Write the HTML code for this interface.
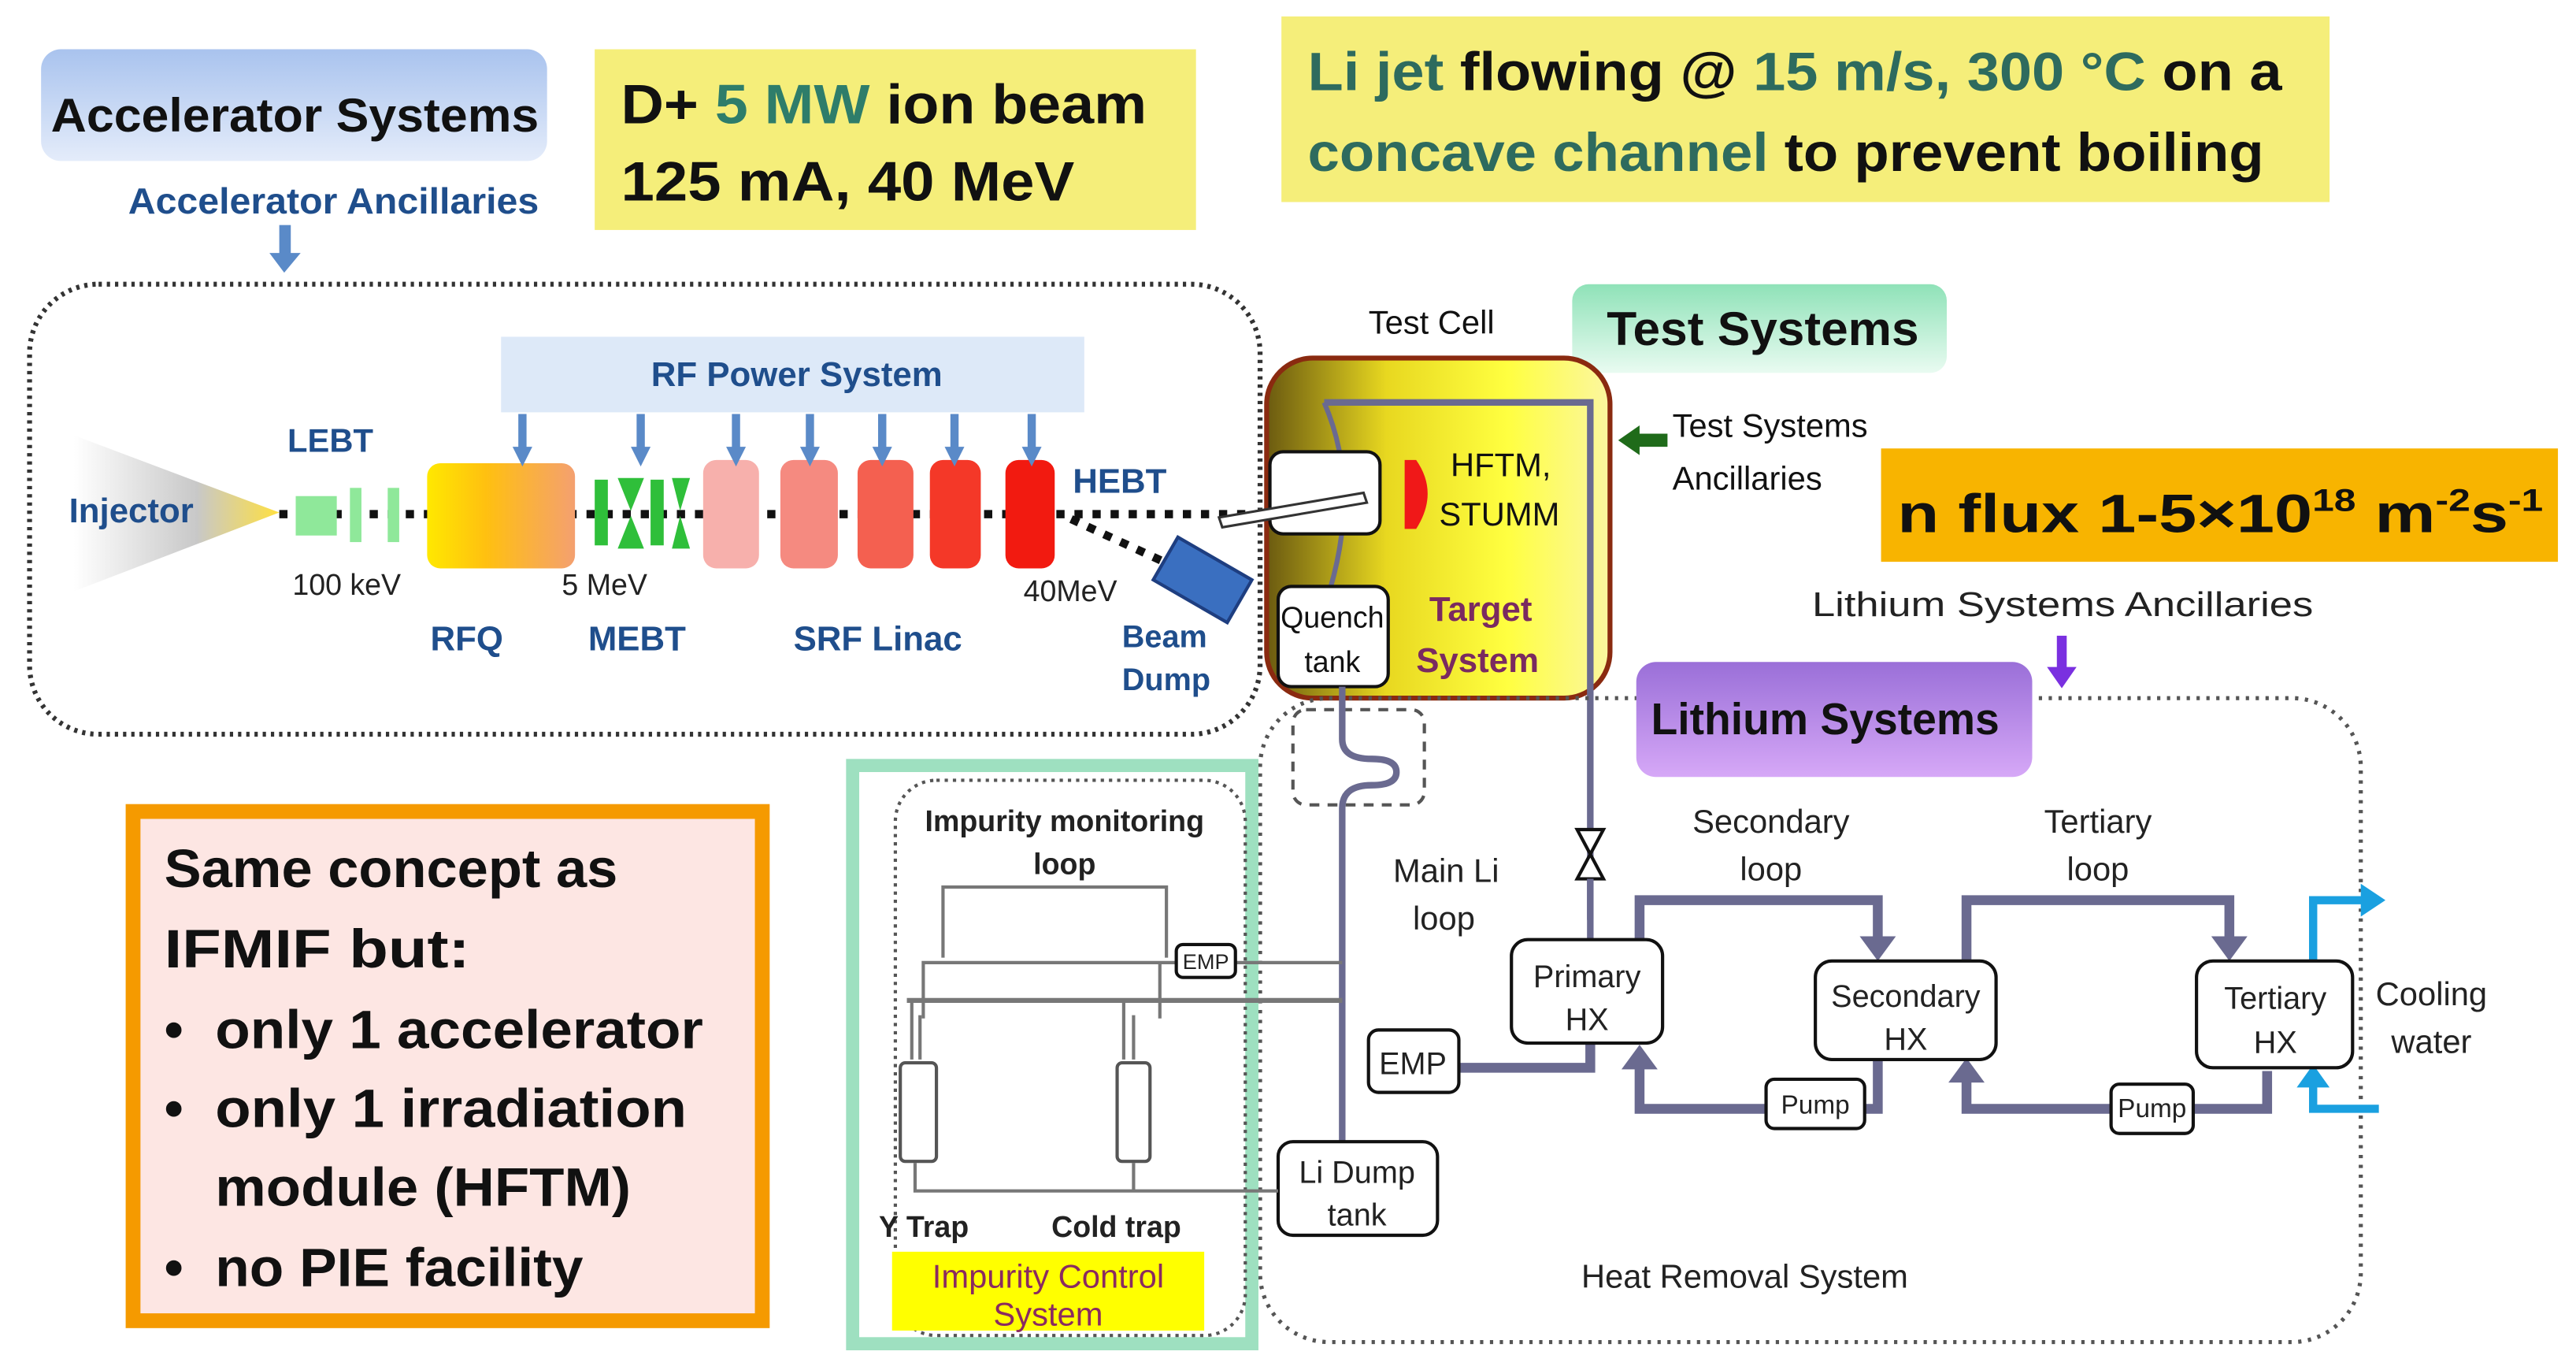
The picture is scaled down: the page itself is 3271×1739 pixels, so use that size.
<!DOCTYPE html>
<html><head><meta charset="utf-8"><style>
html,body{margin:0;padding:0;background:#fff;}
svg{display:block;}
text{font-family:"Liberation Sans",sans-serif;}
</style></head><body>
<svg width="3271" height="1739" viewBox="0 0 1568 834" preserveAspectRatio="none" xmlns="http://www.w3.org/2000/svg">
<defs>
<linearGradient id="gAcc" x1="0" y1="0" x2="0" y2="1"><stop offset="0" stop-color="#a9c3ee"/><stop offset="1" stop-color="#e4ecfa"/></linearGradient>
<linearGradient id="gTest" x1="0" y1="0" x2="0" y2="1"><stop offset="0" stop-color="#8fe2b8"/><stop offset="1" stop-color="#e9fbf1"/></linearGradient>
<linearGradient id="gLi" x1="0" y1="0" x2="0" y2="1"><stop offset="0" stop-color="#9a6fd8"/><stop offset="1" stop-color="#d6a8f7"/></linearGradient>
<linearGradient id="gCell" x1="0" y1="0" x2="1" y2="0"><stop offset="0" stop-color="#6b5a10"/><stop offset="0.35" stop-color="#e8d820"/><stop offset="0.7" stop-color="#ffff40"/><stop offset="1" stop-color="#fbf6a0"/></linearGradient>
<linearGradient id="gRfq" x1="0" y1="0" x2="1" y2="0"><stop offset="0" stop-color="#ffe800"/><stop offset="0.4" stop-color="#ffc010"/><stop offset="1" stop-color="#f4a070"/></linearGradient>
<linearGradient id="gInj" x1="0" y1="0" x2="1" y2="0"><stop offset="0" stop-color="#ffffff"/><stop offset="0.6" stop-color="#c8c8c8"/><stop offset="1" stop-color="#ffe040"/></linearGradient>
</defs>

<rect x="25" y="30" width="308" height="68" rx="12" fill="url(#gAcc)"/>
<text x="31" y="80" font-size="29" font-weight="bold" fill="#111" textLength="297" lengthAdjust="spacingAndGlyphs">Accelerator Systems</text>
<text x="78" y="130" font-size="22" font-weight="bold" fill="#1f4e8c" textLength="250" lengthAdjust="spacingAndGlyphs">Accelerator Ancillaries</text>
<rect x="170" y="137" width="7" height="18" fill="#5a8ac8"/><path d="M164,154 L183,154 L173,166 Z" fill="#5a8ac8"/>

<rect x="362" y="30" width="366" height="110" fill="#f5ee7a"/>
<text x="378" y="75" font-size="34" font-weight="bold" fill="#111" textLength="320" lengthAdjust="spacingAndGlyphs">D+ <tspan fill="#2e7d6a">5 MW</tspan> ion beam</text>
<text x="378" y="122" font-size="34" font-weight="bold" fill="#111" textLength="276" lengthAdjust="spacingAndGlyphs">125 mA, 40 MeV</text>

<rect x="780" y="10" width="638" height="113" fill="#f5ee7a"/>
<text x="796" y="55" font-size="33" font-weight="bold" fill="#111" textLength="593" lengthAdjust="spacingAndGlyphs"><tspan fill="#2e6b5e">Li jet</tspan> flowing @ <tspan fill="#2e6b5e">15 m/s, 300 °C</tspan> on a</text>
<text x="796" y="104" font-size="33" font-weight="bold" fill="#111" textLength="582" lengthAdjust="spacingAndGlyphs"><tspan fill="#2e6b5e">concave channel</tspan> to prevent boiling</text>

<rect x="18" y="173" width="749" height="274" rx="42" fill="none" stroke="#333" stroke-width="3" stroke-dasharray="2 3"/>
<rect x="305" y="205" width="355" height="46" fill="#dde9f8"/>
<text x="485" y="235" font-size="21" font-weight="bold" fill="#1f4e8c" text-anchor="middle">RF Power System</text>

<path d="M45,265 L170,312 L45,360 Z" fill="url(#gInj)"/>
<text x="42" y="318" font-size="21" font-weight="bold" fill="#1f4e8c">Injector</text>
<text x="175" y="275" font-size="20" font-weight="bold" fill="#1f4e8c">LEBT</text>
<line x1="170" y1="313" x2="770" y2="313" stroke="#111" stroke-width="5" stroke-dasharray="5 6"/>
<line x1="652" y1="316" x2="715" y2="345" stroke="#111" stroke-width="5" stroke-dasharray="5 6"/>
<rect x="180" y="302" width="25" height="24" fill="#8fe89a"/>
<rect x="213" y="297" width="7" height="33" fill="#8fe89a"/>
<rect x="236" y="297" width="7" height="33" fill="#8fe89a"/>
<rect x="260" y="282" width="90" height="64" rx="8" fill="url(#gRfq)"/>
<g fill="#2fbf3a">
<rect x="362" y="292" width="8" height="40"/>
<path d="M376,291 L392,291 L384,311 Z M376,334 L392,334 L384,314 Z"/>
<rect x="396" y="292" width="8" height="40"/>
<path d="M409,291 L420,291 L414,311 Z M409,334 L420,334 L414,314 Z"/>
</g>
<rect x="428" y="280" width="34" height="66" rx="8" fill="#f7b0ac"/>
<rect x="475" y="280" width="35" height="66" rx="8" fill="#f58a80"/>
<rect x="522" y="280" width="34" height="66" rx="8" fill="#f46050"/>
<rect x="566" y="280" width="31" height="66" rx="8" fill="#f43828"/>
<rect x="612" y="280" width="30" height="66" rx="8" fill="#f21a10"/>
<g stroke="#5a8ac8" stroke-width="5">
<line x1="318" y1="252" x2="318" y2="274"/><line x1="390" y1="252" x2="390" y2="274"/><line x1="448" y1="252" x2="448" y2="274"/><line x1="493" y1="252" x2="493" y2="274"/><line x1="537" y1="252" x2="537" y2="274"/><line x1="581" y1="252" x2="581" y2="274"/><line x1="628" y1="252" x2="628" y2="274"/>
</g>
<g fill="#5a8ac8">
<path d="M312,272 L324,272 L318,284 Z"/><path d="M384,272 L396,272 L390,284 Z"/><path d="M442,272 L454,272 L448,284 Z"/><path d="M487,272 L499,272 L493,284 Z"/><path d="M531,272 L543,272 L537,284 Z"/><path d="M575,272 L587,272 L581,284 Z"/><path d="M622,272 L634,272 L628,284 Z"/>
</g>
<text x="178" y="362" font-size="18" fill="#222">100 keV</text>
<text x="342" y="362" font-size="18" fill="#222">5 MeV</text>
<text x="623" y="366" font-size="18" fill="#222">40MeV</text>
<text x="262" y="396" font-size="21" font-weight="bold" fill="#1f4e8c">RFQ</text>
<text x="358" y="396" font-size="21" font-weight="bold" fill="#1f4e8c">MEBT</text>
<text x="483" y="396" font-size="21" font-weight="bold" fill="#1f4e8c">SRF Linac</text>
<text x="653" y="300" font-size="21" font-weight="bold" fill="#1f4e8c">HEBT</text>
<rect x="706" y="338" width="52" height="30" fill="#3a6fc0" stroke="#1e3e80" stroke-width="2" transform="rotate(30 732 353)"/>
<text x="683" y="394" font-size="19" font-weight="bold" fill="#1f4e8c">Beam</text>
<text x="683" y="420" font-size="19" font-weight="bold" fill="#1f4e8c">Dump</text>

<text x="833" y="203" font-size="20" fill="#111">Test Cell</text>
<rect x="957" y="173" width="228" height="54" rx="10" fill="url(#gTest)"/>
<text x="978" y="210" font-size="29" font-weight="bold" fill="#111" textLength="190" lengthAdjust="spacingAndGlyphs">Test Systems</text>
<rect x="771" y="218" width="209" height="207" rx="28" fill="url(#gCell)" stroke="#8a2a10" stroke-width="3"/>
<path d="M806,245 L968,245 L968,560" fill="none" stroke="#6a6a90" stroke-width="4"/>
<path d="M806,245 Q830,300 806,370" fill="none" stroke="#6a6a90" stroke-width="3"/>
<rect x="773" y="275" width="67" height="50" rx="8" fill="#fff" stroke="#111" stroke-width="2"/>
<path d="M742,315 L830,300 L832,306 L744,321 Z" fill="#fff" stroke="#333" stroke-width="1.5"/>
<path d="M855,280 L862,280 Q876,300 862,322 L855,322 Z" fill="#f01818"/>
<text x="883" y="290" font-size="20" fill="#111">HFTM,</text>
<text x="876" y="320" font-size="20" fill="#111">STUMM</text>
<rect x="778" y="357" width="67" height="61" rx="8" fill="#fff" stroke="#111" stroke-width="2"/>
<text x="811" y="382" font-size="18" fill="#111" text-anchor="middle">Quench</text>
<text x="811" y="409" font-size="18" fill="#111" text-anchor="middle">tank</text>
<text x="870" y="378" font-size="21" font-weight="bold" fill="#7a2a60">Target</text>
<text x="862" y="409" font-size="21" font-weight="bold" fill="#7a2a60">System</text>
<path d="M985,268 L998,259 L998,264 L1015,264 L1015,272 L998,272 L998,277 Z" fill="#1f6b1a"/>
<text x="1018" y="266" font-size="20" fill="#111">Test Systems</text>
<text x="1018" y="298" font-size="20" fill="#111">Ancillaries</text>

<rect x="1145" y="273" width="412" height="69" fill="#f8b400"/>
<text x="1155" y="324" font-size="33" font-weight="bold" fill="#111" textLength="393" lengthAdjust="spacingAndGlyphs">n flux 1-5×10<tspan font-size="19" dy="-13">18</tspan><tspan dy="13"> m</tspan><tspan font-size="19" dy="-13">-2</tspan><tspan dy="13">s</tspan><tspan font-size="19" dy="-13">-1</tspan></text>

<text x="1103" y="375" font-size="21" fill="#222" textLength="305" lengthAdjust="spacingAndGlyphs">Lithium Systems Ancillaries</text>
<rect x="1252" y="387" width="6" height="22" fill="#7a30e0"/><path d="M1246,406 L1264,406 L1255,419 Z" fill="#7a30e0"/>

<rect x="767" y="425" width="670" height="392" rx="42" fill="none" stroke="#555" stroke-width="2.5" stroke-dasharray="2 4"/>
<rect x="996" y="403" width="241" height="70" rx="12" fill="url(#gLi)"/>
<text x="1005" y="447" font-size="27" font-weight="bold" fill="#111" textLength="212" lengthAdjust="spacingAndGlyphs">Lithium Systems</text>

<rect x="787" y="432" width="80" height="58" rx="8" fill="none" stroke="#555" stroke-width="2" stroke-dasharray="6 5"/>
<path d="M817,418 L817,450 Q817,462 835,462 Q850,462 850,470 Q850,478 835,478 Q817,478 817,492 L817,697" fill="none" stroke="#6a6a90" stroke-width="4"/>
<path d="M960,505 L976,505 L960,535 L976,535 Z" fill="#fff" stroke="#111" stroke-width="2"/>
<line x1="968" y1="535" x2="968" y2="572" stroke="#6a6a90" stroke-width="4"/>
<text x="848" y="537" font-size="20" fill="#222">Main Li</text>
<text x="860" y="566" font-size="20" fill="#222">loop</text>
<g stroke="#6a6a90" stroke-width="6" fill="none">
<path d="M888,650 L968,650 L968,635"/>
<path d="M998,572 L998,548 L1143,548 L1143,575"/>
<path d="M1143,645 L1143,675 L998,675 L998,650"/>
<path d="M1197,585 L1197,548 L1357,548 L1357,575"/>
<path d="M1380,652 L1380,675 L1197,675 L1197,658"/>
</g>
<g fill="#6a6a90">
<path d="M1132,570 L1154,570 L1143,585 Z"/><path d="M1346,570 L1368,570 L1357,585 Z"/>
<path d="M987,651 L1009,651 L998,636 Z"/><path d="M1186,659 L1208,659 L1197,644 Z"/>
</g>
<g stroke="#1aa0e0" stroke-width="5" fill="none">
<path d="M1408,585 L1408,548 L1443,548"/><path d="M1448,675 L1408,675 L1408,660"/>
</g>
<path d="M1437,538 L1452,548 L1437,558 Z" fill="#1aa0e0"/><path d="M1398,662 L1418,662 L1408,648 Z" fill="#1aa0e0"/>
<g fill="#fff" stroke="#111" stroke-width="2">
<rect x="920" y="572" width="92" height="63" rx="10"/>
<rect x="1105" y="585" width="110" height="60" rx="10"/>
<rect x="1337" y="585" width="95" height="65" rx="10"/>
<rect x="833" y="627" width="55" height="38" rx="6"/>
<rect x="1075" y="657" width="60" height="30" rx="5"/>
<rect x="1285" y="660" width="50" height="30" rx="5"/>
<rect x="778" y="695" width="97" height="57" rx="9"/>
</g>
<g font-size="19" fill="#222" text-anchor="middle">
<text x="966" y="601">Primary</text><text x="966" y="627">HX</text>
<text x="1160" y="613">Secondary</text><text x="1160" y="639">HX</text>
<text x="1385" y="614">Tertiary</text><text x="1385" y="641">HX</text>
<text x="860" y="654">EMP</text>
<text x="1105" y="678" font-size="16">Pump</text>
<text x="1310" y="680" font-size="16">Pump</text>
<text x="826" y="720">Li Dump</text><text x="826" y="746">tank</text>
<text x="1078" y="507" font-size="20">Secondary</text><text x="1078" y="536" font-size="20">loop</text>
<text x="1277" y="507" font-size="20">Tertiary</text><text x="1277" y="536" font-size="20">loop</text>
<text x="1480" y="612" font-size="20">Cooling</text><text x="1480" y="641" font-size="20">water</text>
<text x="1062" y="784" font-size="20">Heat Removal System</text>
</g>

<rect x="519" y="466" width="243" height="352" fill="#fff" stroke="#9ee0c0" stroke-width="8"/>
<rect x="545" y="475" width="213" height="338" rx="25" fill="none" stroke="#555" stroke-width="2" stroke-dasharray="2 3"/>
<text x="648" y="506" font-size="18" font-weight="bold" fill="#222" text-anchor="middle">Impurity monitoring</text>
<text x="648" y="532" font-size="18" font-weight="bold" fill="#222" text-anchor="middle">loop</text>
<g stroke="#777" stroke-width="2" fill="none">
<path d="M574,583 L574,540 L710,540 L710,583"/>
<path d="M562,620 L562,586 L817,586"/>
<line x1="706" y1="586" x2="706" y2="620"/>
<line x1="552" y1="609" x2="817" y2="609" stroke-width="3"/>
<path d="M555,609 L555,645 M684,609 L684,645 M560,618 L560,645 M690,618 L690,645"/>
<path d="M557,708 L557,725 L778,725 M690,708 L690,725"/>
</g>
<rect x="716" y="575" width="36" height="20" rx="4" fill="#fff" stroke="#111" stroke-width="2"/>
<text x="734" y="590" font-size="13" fill="#222" text-anchor="middle">EMP</text>
<rect x="548" y="647" width="22" height="60" rx="3" fill="#fff" stroke="#555" stroke-width="2"/>
<rect x="680" y="647" width="20" height="60" rx="3" fill="#fff" stroke="#555" stroke-width="2"/>
<text x="535" y="753" font-size="18" font-weight="bold" fill="#222">Y Trap</text>
<text x="640" y="753" font-size="18" font-weight="bold" fill="#222">Cold trap</text>
<rect x="543" y="762" width="190" height="48" fill="#ffff00"/>
<text x="638" y="784" font-size="20" fill="#8a2a60" text-anchor="middle">Impurity Control</text>
<text x="638" y="807" font-size="20" fill="#8a2a60" text-anchor="middle">System</text>

<rect x="81" y="494" width="383" height="310" fill="#fde6e3" stroke="#f59a00" stroke-width="9"/>
<g font-size="33" font-weight="bold" fill="#111">
<text x="100" y="540" textLength="276" lengthAdjust="spacingAndGlyphs">Same concept as</text>
<text x="100" y="589" textLength="186" lengthAdjust="spacingAndGlyphs">IFMIF but:</text>
<text x="100" y="638">•</text><text x="131" y="638" textLength="297" lengthAdjust="spacingAndGlyphs">only 1 accelerator</text>
<text x="100" y="686">•</text><text x="131" y="686" textLength="287" lengthAdjust="spacingAndGlyphs">only 1 irradiation</text>
<text x="131" y="734" textLength="253" lengthAdjust="spacingAndGlyphs">module (HFTM)</text>
<text x="100" y="783">•</text><text x="131" y="783" textLength="224" lengthAdjust="spacingAndGlyphs">no PIE facility</text>
</g>
</svg>
</body></html>
